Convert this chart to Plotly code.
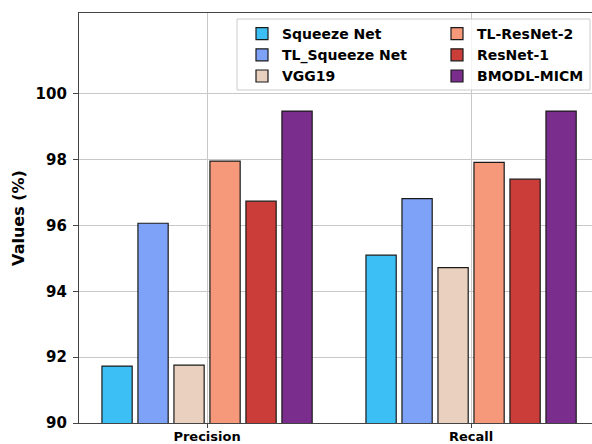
import plotly.graph_objects as go

categories = ["Precision", "Recall"]
models = ["Squeeze Net", "TL_Squeeze Net", "VGG19", "TL-ResNet-2", "ResNet-1", "BMODL-MICM"]
precision = [91.73, 96.07, 91.76, 97.96, 96.74, 99.48]
recall = [95.10, 96.82, 94.72, 97.92, 97.41, 99.48]
colors = ["#3BBFF5", "#7FA2F9", "#EAD0BE", "#F6997B", "#CB3D38", "#7B2D8E"]
legend_ids = ["legend", "legend", "legend", "legend2", "legend2", "legend2"]

FONT = "DejaVu Sans"
W, H = 592, 444
ML, MR, MT, MB = 79, 0, 13, 21
PW, PH = W - ML - MR, H - MT - MB


def px_x(p):
    return (p - ML) / PW


def px_y(p):
    return 1 - (p - MT) / PH


fig = go.Figure()
for i, m in enumerate(models):
    fig.add_trace(go.Bar(
        x=[0, 1], y=[precision[i], recall[i]], name=m,
        marker=dict(color=colors[i], line=dict(color="#1a1a1a", width=1.2)),
        legend=legend_ids[i],
    ))

legend_font = dict(family=FONT, size=14, color="black", weight="bold")
common_leg = dict(orientation="v", xanchor="left", yanchor="top",
                  bgcolor="rgba(0,0,0,0)", borderwidth=0, font=legend_font,
                  traceorder="normal")

fig.update_layout(
    width=W, height=H,
    margin=dict(l=ML, r=MR, t=MT, b=MB),
    paper_bgcolor="white", plot_bgcolor="white",
    barmode="group", bargap=0.182, bargroupgap=0.16,
    font=dict(family=FONT, color="black"),
    showlegend=True,
    legend=dict(x=px_x(242), y=px_y(18), **common_leg),
    legend2=dict(x=px_x(437), y=px_y(18), **common_leg),
    shapes=[dict(type="rect", xref="paper", yref="paper",
                 x0=px_x(237), x1=px_x(590), y0=px_y(90), y1=px_y(19),
                 line=dict(color="#cccccc", width=1),
                 fillcolor="rgba(255,255,255,0.8)", layer="above")],
    xaxis=dict(
        range=[-0.485, 1.458], tickvals=[0, 1], ticktext=categories,
        showgrid=True, gridcolor="#c8c8c8", gridwidth=1,
        showline=True, linecolor="#444444", linewidth=1.2, mirror=True,
        ticks="outside", ticklen=4, tickcolor="#444444", ticklabelstandoff=-3,
        tickfont=dict(family=FONT, size=13, weight="bold"),
        zeroline=False, automargin=False,
    ),
    yaxis=dict(
        range=[90, 102.46], tickvals=[90, 92, 94, 96, 98, 100],
        showgrid=True, gridcolor="#c8c8c8", gridwidth=1,
        showline=True, linecolor="#444444", linewidth=1.2, mirror=False,
        ticks="outside", ticklen=5, tickcolor="#444444", ticklabelstandoff=3,
        tickfont=dict(family=FONT, size=15, weight="bold"),
        title=dict(text="Values (%)", font=dict(family=FONT, size=16, weight="bold"), standoff=6),
        zeroline=False, automargin=False,
    ),
)

fig.write_html("out.html", config={"displayModeBar": False},
               post_script="document.body.style.margin='0';")
